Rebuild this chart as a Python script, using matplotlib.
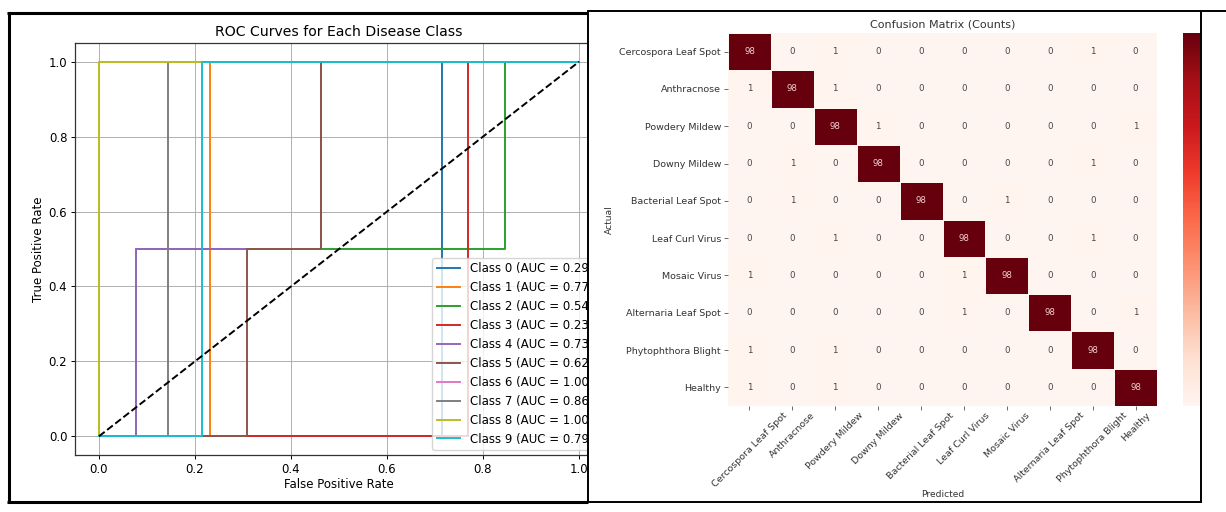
import numpy as np
import matplotlib
matplotlib.use('Agg')
import matplotlib.pyplot as plt
from matplotlib.patches import Rectangle
from matplotlib.lines import Line2D

#ROC data
fpr_list = [
    [0.0, 0.714, 0.714, 1.0],
    [0.0, 0.231, 0.231, 1.0],
    [0.0, 0.077, 0.077, 0.846, 0.846, 1.0],
    [0.0, 0.769, 0.769, 1.0],
    [0.0, 0.077, 0.077, 0.462, 0.462, 1.0],
    [0.0, 0.308, 0.308, 0.462, 0.462, 1.0],
    [0.0, 0.0, 1.0],
    [0.0, 0.143, 0.143, 1.0],
    [0.0, 0.0, 1.0],
    [0.0, 0.214, 0.214, 1.0],
]
tpr_list = [
    [0.0, 0.0, 1.0, 1.0],
    [0.0, 0.0, 1.0, 1.0],
    [0.0, 0.0, 0.5, 0.5, 1.0, 1.0],
    [0.0, 0.0, 1.0, 1.0],
    [0.0, 0.0, 0.5, 0.5, 1.0, 1.0],
    [0.0, 0.0, 0.5, 0.5, 1.0, 1.0],
    [0.0, 1.0, 1.0],
    [0.0, 0.0, 1.0, 1.0],
    [0.0, 1.0, 1.0],
    [0.0, 0.0, 1.0, 1.0],
]
auc_vals = [0.29, 0.77, 0.54, 0.23, 0.73, 0.62, 1.00, 0.86, 1.00, 0.79]

#confusion matrix
class_names = ['Cercospora Leaf Spot', 'Anthracnose', 'Powdery Mildew', 'Downy Mildew',
               'Bacterial Leaf Spot', 'Leaf Curl Virus', 'Mosaic Virus',
               'Alternaria Leaf Spot', 'Phytophthora Blight', 'Healthy']
cm = np.array([
    [98, 0, 1, 0, 0, 0, 0, 0, 1, 0],
    [1, 98, 1, 0, 0, 0, 0, 0, 0, 0],
    [0, 0, 98, 1, 0, 0, 0, 0, 0, 1],
    [0, 1, 0, 98, 0, 0, 0, 0, 1, 0],
    [0, 1, 0, 0, 98, 0, 1, 0, 0, 0],
    [0, 0, 1, 0, 0, 98, 0, 0, 1, 0],
    [1, 0, 0, 0, 0, 1, 98, 0, 0, 0],
    [0, 0, 0, 0, 0, 1, 0, 98, 0, 1],
    [1, 0, 1, 0, 0, 0, 0, 0, 98, 0],
    [1, 0, 1, 0, 0, 0, 0, 0, 0, 98],
])

W, H = 1226, 512
fig = plt.figure(figsize=(W/100, H/100), dpi=100)

def box(x0, y0, x1, y1):
    #pixel box (top-left origin) -> figure fraction rect
    return [x0/W, 1-y1/H, (x1-x0)/W, (y1-y0)/H]

#left panel: ROC curves
fs = 8.5
ax1 = fig.add_axes(box(75, 43, 603, 455))
for i in range(len(fpr_list)):
    ax1.plot(fpr_list[i], tpr_list[i], lw=1.4,
             label=f'Class {i} (AUC = {auc_vals[i]:.2f})')
ax1.plot([0, 1], [0, 1], 'k--', lw=1.4)
ax1.set_xlim(-0.05, 1.05)
ax1.set_ylim(-0.05, 1.05)
ax1.set_xticks([0, 0.2, 0.4, 0.6, 0.8, 1.0])
ax1.set_yticks([0, 0.2, 0.4, 0.6, 0.8, 1.0])
ax1.tick_params(labelsize=fs, length=3, width=0.7, pad=2.5)
ax1.set_xlabel('False Positive Rate', fontsize=fs, labelpad=2)
ax1.set_ylabel('True Positive Rate', fontsize=fs, labelpad=3)
ax1.set_title('ROC Curves for Each Disease Class', fontsize=10.1, pad=5)
ax1.grid(True, color='#b0b0b0', lw=0.7)
for s in ax1.spines.values():
    s.set_color('#333333')
    s.set_linewidth(0.9)
ax1.legend(loc='lower right', fontsize=fs, labelspacing=0.5, handlelength=2.0,
           borderaxespad=0.4, framealpha=0.8)

#white cover for right half (clips the left screenshot)
fig.patches.append(Rectangle((588/W, 0), 1-588/W, 1, transform=fig.transFigure,
                             facecolor='white', edgecolor='none', zorder=1))

#right panel: confusion matrix
ax2 = fig.add_axes(box(728, 33, 1157, 406))
ax2.set_zorder(2)
mesh = ax2.pcolormesh(cm, cmap='Reds', vmin=0, vmax=98, edgecolors='#fff5f0', linewidth=0.5)
ax2.set_xlim(0, 10)
ax2.set_ylim(10, 0)
for r in range(10):
    for c in range(10):
        v = cm[r, c]
        ax2.text(c+0.5, r+0.5, str(v), ha='center', va='center', fontsize=6.2,
                 color='#f2d0d0' if v > 50 else '#444444')
ax2.set_xticks(np.arange(10)+0.5)
ax2.set_yticks(np.arange(10)+0.5)
ax2.set_xticklabels(class_names, rotation=45, ha='center', fontsize=6.8, color='#333333')
ax2.set_yticklabels(class_names, fontsize=6.8, color='#333333')
ax2.tick_params(length=3, width=0.6, color='#555555', pad=2)
ax2.tick_params(axis='x', pad=0.5)
for s in ax2.spines.values():
    s.set_visible(False)
ax2.set_xlabel('Predicted', fontsize=6.6, color='#333333', labelpad=0.5)
ax2.set_ylabel('Actual', fontsize=6.6, color='#333333', labelpad=4)
ax2.set_title('Confusion Matrix (Counts)', fontsize=8.0, color='#333333', pad=4)

cax = fig.add_axes(box(1183, 33, 1201, 406))
cax.set_zorder(2)
cb = fig.colorbar(mesh, cax=cax)
cb.outline.set_visible(False)
cax.set_yticks([])

#screenshot borders
def fline(xs, ys, lw, z=5):
    fig.add_artist(Line2D([x/W for x in xs], [1-y/H for y in ys], color='black',
                          lw=lw, zorder=z, solid_capstyle='butt'))

fline([8.5, 8.5], [12, 502], 2.2)
fline([7, 588], [12.5, 12.5], 2.2)
fline([7, 588], [501.5, 501.5], 2.2)
fline([587.5, 587.5], [11, 502], 1.4)
fline([587, 1226], [11, 11], 1.4)
fline([1201, 1201], [11, 502], 1.4)
fline([587, 1202], [502, 502], 1.4)

fig.savefig('out.png', dpi=100)
